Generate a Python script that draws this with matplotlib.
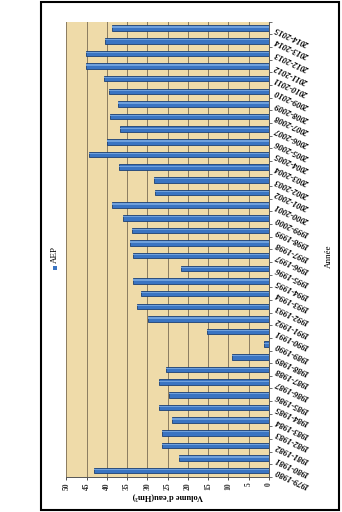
import numpy as np
import matplotlib
matplotlib.use("Agg")
import matplotlib.pyplot as plt
from matplotlib.patches import Rectangle

# campaigns, bottom to top
years = [
    "1979-1980", "1980-1981", "1981-1982", "1982-1983", "1983-1984", "1984-1985",
    "1985-1986", "1986-1987", "1987-1988", "1988-1989", "1989-1990", "1990-1991",
    "1991-1992", "1992-1993", "1993-1994", "1994-1995", "1995-1996", "1996-1997",
    "1997-1998", "1998-1999", "1999-2000", "2000-2001", "2001-2002", "2002-2003",
    "2003-2004", "2004-2005", "2005-2006", "2006-2007", "2007-2008", "2008-2009",
    "2009-2010", "2010-2011", "2011-2012", "2012-2013", "2013-2014", "2014-2015",
]
aep = [
    43.1, 22.1, 26.4, 26.4, 24.0, 27.0,
    24.6, 27.0, 25.3, 9.2, 1.2, 15.2,
    29.8, 32.5, 31.5, 33.5, 21.7, 33.5,
    34.3, 33.8, 35.9, 38.7, 28.0, 28.3,
    36.9, 44.3, 40.0, 36.8, 39.1, 37.3,
    39.5, 40.6, 45.2, 45.2, 40.4, 38.8,
]
value_ticks = [0, 5, 10, 15, 20, 25, 30, 35, 40, 45, 50]

plt.rcParams["font.family"] = ["Liberation Serif", "DejaVu Serif"]

fig = plt.figure(figsize=(3.42, 5.12), dpi=100)
fig.patch.set_facecolor("white")
ax = fig.add_axes([0.194, 0.0684, 0.592, 0.889])
ax.set_facecolor("#EFDBA9")

y = np.arange(len(years))
ax.barh(y, aep, height=0.44, color="#3A74C2", edgecolor="#1C3F74", linewidth=0.6, zorder=3)
# light stripe to mimic the glossy bars
ax.barh(y + 0.08, aep, height=0.1, color="#6FA0DC", linewidth=0, zorder=4)

ax.set_xlim(50, 0)
ax.set_ylim(-0.5, len(years) - 0.5)

ax.set_xticks(value_ticks)
ax.set_xticklabels([str(v) for v in value_ticks], rotation=90, fontsize=5.5,
                   fontweight="bold")
ax.tick_params(axis="x", length=2, width=0.6, pad=2, colors="#333333")
ax.grid(axis="x", color="#8A7C60", linewidth=0.7, zorder=1)

ax.yaxis.tick_right()
ax.set_yticks(y)
ax.set_yticklabels(years, rotation=155, fontsize=6, fontweight="bold",
                   fontstyle="italic", ha="right", va="center", rotation_mode="anchor")
ax.tick_params(axis="y", which="major", length=0, pad=5)
ax.set_yticks(np.arange(-0.5, len(years), 1), minor=True)
ax.tick_params(axis="y", which="minor", length=2, width=0.6, color="#555555")

for s in ["top", "left"]:
    ax.spines[s].set_visible(False)
ax.spines["right"].set_color("#555555")
ax.spines["bottom"].set_color("#555555")
ax.spines["right"].set_linewidth(0.7)
ax.spines["bottom"].set_linewidth(0.7)

fig.text(0.49, 0.029, "Volume d'eau(Hm\u00b3)", rotation=180, ha="center", va="center",
         fontsize=6, fontweight="bold")
fig.text(0.962, 0.50, "Année", rotation=90, ha="center", va="center", fontsize=6.5)

# legend, rotated with the chart
fig.patches.append(Rectangle((0.155, 0.472), 0.012, 0.008, transform=fig.transFigure,
                             facecolor="#3A74C2", edgecolor="none"))
fig.text(0.161, 0.486, "AEP", rotation=90, ha="center", va="bottom", fontsize=6.5)

# chart frame
fig.patches.append(Rectangle((0.119, 0.004), 0.873, 0.992, transform=fig.transFigure,
                             fill=False, edgecolor="black", linewidth=1.5))

fig.savefig("out.png", dpi=100)
